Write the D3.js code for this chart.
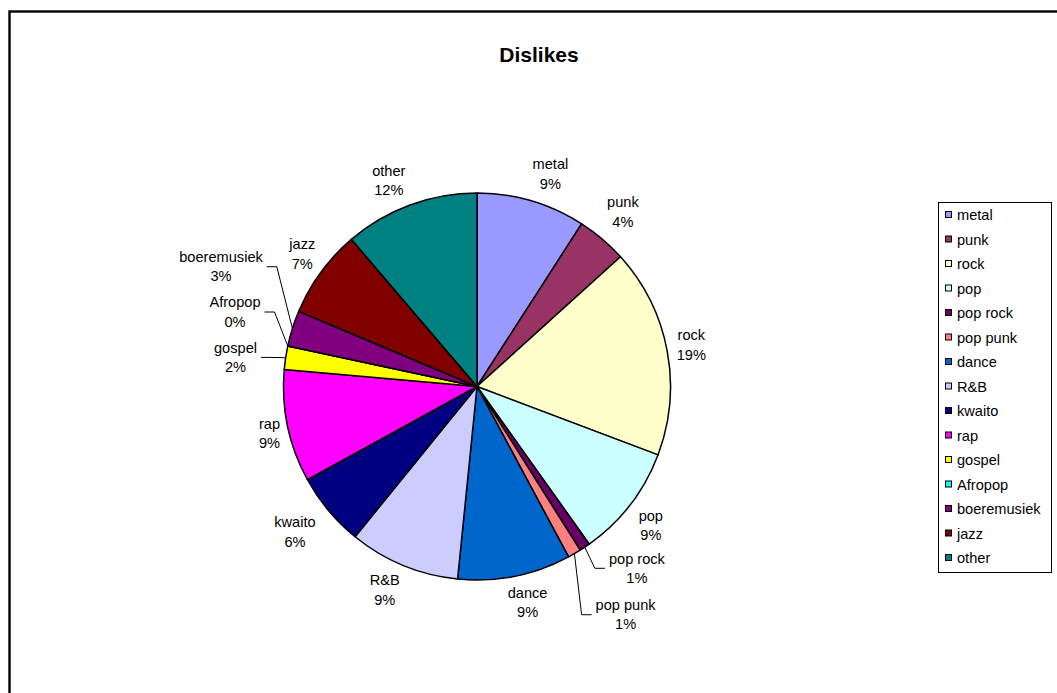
<!DOCTYPE html>
<html>
<head>
<meta charset="utf-8">
<script src="https://cdn.jsdelivr.net/npm/d3@7"></script>
<style>
  body { margin: 0; background: #fff; }
  text { font-family: Arial, "Liberation Sans", sans-serif; fill: #000; }
</style>
</head>
<body>
<svg width="1057" height="693"></svg>
<script>
// data (share of the pie, in %)
var genres = ["metal", "punk", "rock", "pop", "pop rock", "pop punk", "dance", "R&B",
              "kwaito", "rap", "gospel", "Afropop", "boeremusiek", "jazz", "other"];
var shares = [9.1, 4.2, 17.45, 9.4, 0.9, 1.1, 9.45, 9.25, 6.15, 9.4, 1.95, 0, 3.0, 7.4, 11.25];
var pctLabels = ["9%", "4%", "19%", "9%", "1%", "1%", "9%", "9%", "6%", "9%", "2%", "0%", "3%", "7%", "12%"];
var colors = ["#9999FF", "#993366", "#FFFFCC", "#CCFFFF", "#660066", "#FF8080", "#0066CC", "#CCCCFF",
              "#000080", "#FF00FF", "#FFFF00", "#00FFFF", "#800080", "#800000", "#008080"];

// labels the author dragged around in the original
var labelNudge = {
  "metal": [11, 1], "punk": [4, -5], "pop": [3, 3], "pop rock": [31, -3], "pop punk": [31, 36],
  "dance": [7, -2], "R&B": [-9, -2], "kwaito": [-10, 3], "rap": [2, 1], "gospel": [-19, 4],
  "Afropop": [-18, -28], "boeremusiek": [-22, -53], "jazz": [0, -1], "other": [-12, 3]
};

var svg = d3.select("svg");
var cx = 477, cy = 386.5, radius = 193.5;

// chart frame (runs off the right/bottom of the window)
svg.append("rect")
  .attr("x", 9.5).attr("y", 11.5)
  .attr("width", 1200).attr("height", 900)
  .attr("fill", "none").attr("stroke", "#000").attr("stroke-width", 2.4);

svg.append("text")
  .attr("x", 539).attr("y", 62)
  .attr("text-anchor", "middle")
  .style("font-size", "21px").style("font-weight", "bold")
  .text("Dislikes");

var pie = d3.pie().sort(null).value(function(d) { return d; });
var arcs = pie(shares);
var arc = d3.arc().innerRadius(0).outerRadius(radius);

var g = svg.append("g").attr("transform", "translate(" + cx + "," + cy + ")");

g.selectAll("path.slice")
  .data(arcs)
  .enter().append("path")
  .attr("class", "slice")
  .attr("d", arc)
  .attr("fill", function(d, i) { return colors[i]; })
  .attr("stroke", "#000")
  .attr("stroke-width", 1.5)
  .attr("stroke-linejoin", "round");

// data labels
var lineGap = 19.4, boxH = 38, gap = 10;
var labels = g.selectAll("g.lbl")
  .data(arcs)
  .enter().append("g")
  .attr("class", "lbl");

labels.each(function(d, i) {
  var sel = d3.select(this);
  var t1 = sel.append("text").attr("text-anchor", "middle").attr("dominant-baseline", "central")
    .style("font-size", "14.6px").text(genres[i]);
  var t2 = sel.append("text").attr("text-anchor", "middle").attr("dominant-baseline", "central")
    .style("font-size", "14.6px").text(pctLabels[i]);
  var w = Math.max(t1.node().getComputedTextLength(), t2.node().getComputedTextLength());
  var a = (d.startAngle + d.endAngle) / 2;
  var s = Math.sin(a), c = -Math.cos(a);
  var nudge = labelNudge[genres[i]] || [0, 0];
  var lx = (radius + gap) * s + w / 2 * s + nudge[0];
  var ly = (radius + gap) * c + boxH / 2 * c + nudge[1];
  t1.attr("x", lx).attr("y", ly - lineGap / 2);
  t2.attr("x", lx).attr("y", ly + lineGap / 2);

  // leader lines for the thin slices
  if (shares[i] < 3.5) {
    var dir = s > 0 ? 1 : -1;
    var ex = lx - dir * (w / 2 + 4);
    var pts = [[ex, ly], [ex - dir * 10, ly], [radius * s, radius * c]];
    g.append("path")
      .attr("d", d3.line()(pts))
      .attr("fill", "none")
      .attr("stroke", "#000")
      .attr("stroke-width", 1);
  }
});

// legend
var legend = svg.append("g");
legend.append("rect")
  .attr("x", 938.5).attr("y", 202.5)
  .attr("width", 113).attr("height", 370)
  .attr("fill", "#fff").attr("stroke", "#000").attr("stroke-width", 1);

var legendY = d3.scalePoint().domain(genres).range([215, 558]);

var item = legend.selectAll("g.item")
  .data(genres)
  .enter().append("g")
  .attr("class", "item")
  .attr("transform", function(d) { return "translate(945," + legendY(d) + ")"; });

item.append("rect")
  .attr("x", 0.5).attr("y", -3.5)
  .attr("width", 6).attr("height", 6)
  .attr("fill", function(d, i) { return colors[i]; })
  .attr("stroke", "#000").attr("stroke-width", 1);

item.append("text")
  .attr("x", 12).attr("y", 0)
  .attr("dominant-baseline", "central")
  .style("font-size", "14.6px")
  .text(function(d) { return d; });
</script>
</body>
</html>
